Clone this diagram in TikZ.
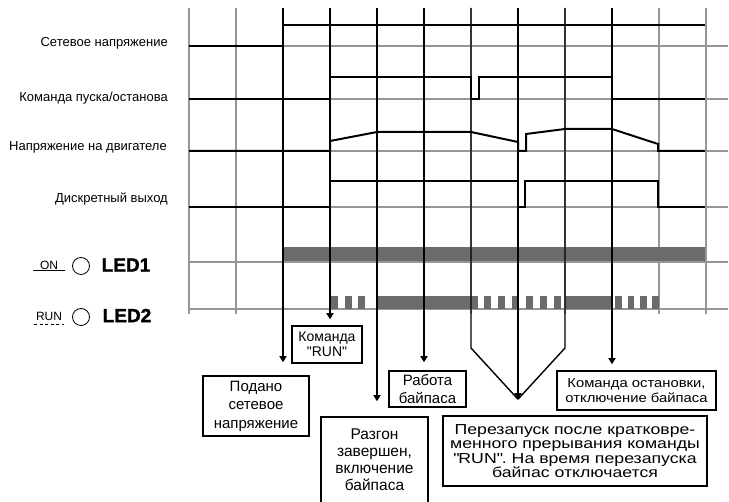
\documentclass[tikz,border=0pt]{standalone}
\usepackage{fontspec}
\setmainfont{Liberation Sans}
\newfontfamily\widefont[FakeStretch=1.22]{Liberation Sans}
\newfontfamily\halfwidefont[FakeStretch=1.14]{Liberation Sans}
\newfontfamily\ledfont[FakeBold=1.6]{Liberation Sans Bold}
\usetikzlibrary{arrows.meta,positioning,calc}
\definecolor{gridgray}{RGB}{150,150,150}
\definecolor{ledgray}{RGB}{107,107,107}
\newcommand\qtd[1]{\textquotedbl#1\textquotedbl}
\tikzset{
    gridline/.style={gridgray, line width=1.2pt},
    signal/.style={black, line width=2pt, line join=miter},
    marker/.style={black, line width=1.4pt},
    sig label/.style={anchor=east, inner sep=0pt, font=\fontsize{13}{14}\selectfont},
    led text/.style={inner sep=0pt, font=\fontsize{12}{12}\selectfont},
    led name/.style={inner sep=0pt, font=\fontsize{19}{19}\ledfont},
    led lamp/.style={draw, circle, minimum size=17pt, inner sep=0pt, line width=0.8pt},
    note/.style={draw, line width=1.5pt, align=center, inner sep=0pt}
}
\begin{document}
\begin{tikzpicture}[x=1pt, y=-1pt, >={Triangle[length=6pt,width=7pt]}]
    \useasboundingbox (0,0) rectangle (729,502);
    % grid
    \foreach \i in {0,...,11}
        \draw[gridline] (189+47*\i,8) -- (189+47*\i,314);
    \foreach \y in {46,99,151,207,262,309}
        \draw[gridline] (189,\y) -- (728,\y);
    % signal names
    \node[sig label] (lnet) at (168,43) {Сетевое напряжение};
    \node[sig label] (lcmd) at (168,98) {Команда пуска/останова};
    \node[sig label] (lmot) at (167,147) {Напряжение на двигателе};
    \node[sig label] (ldo) at (168,199) {Дискретный выход};
    % LEDs
    \node[led text] (on) at (49,265) {ON};
    \draw[line width=1pt] (33,270.5) -- (65,270.5);
    \node[led lamp] (lamp1) at (81,266) {};
    \node[led name] (led1) at (126,265) {LED1};
    \node[led text] (run) at (49,316.5) {RUN};
    \draw[line width=0.8pt, dash pattern=on 3pt off 2.5pt] (34,324) -- (64,324);
    \node[led lamp] (lamp2) at (81,317) {};
    \node[led name] (led2) at (127,315.5) {LED2};
    \fill[ledgray] (283,247) rectangle (705,261);
    \foreach \x in {331,344.5,358,471,484,498,512,526,540,554}
        \fill[ledgray] (\x,296) rectangle ++(7,13);
    \fill[ledgray] (377,296) rectangle (471,309);
    \fill[ledgray] (565,296) rectangle (612,309);
    \foreach \x in {615,627.5,640,652}
        \fill[ledgray] (\x,296) rectangle ++(6.5,13);
    % notes
    \node[note, minimum width=106pt, minimum height=60pt, font=\fontsize{15}{18.5}\selectfont] (podano) at (256,406) {Подано\\сетевое\\напряжение};
    \node[note, minimum width=70pt, minimum height=37pt, font=\fontsize{14}{15}\selectfont] (runcmd) at (327,344.5) {Команда\\\qtd{RUN}};
    \node[note, minimum width=107pt, minimum height=86pt, font=\fontsize{15.5}{17}\selectfont] (razgon) at (374.5,460) {Разгон\\завершен,\\включение\\байпаса};
    \node[note, minimum width=77pt, minimum height=36pt, font=\fontsize{15}{18}\selectfont] (rabota) at (427.5,389) {Работа\\байпаса};
    \node[note, minimum width=159pt, minimum height=39pt, font=\fontsize{13}{15.5}\halfwidefont] (stop) at (636.5,390.5) {Команда остановки,\\отключение байпаса};
    \node[note, minimum width=264pt, minimum height=70pt, font=\fontsize{14.5}{14.3}\widefont] (restart) at (575,451) {Перезапуск после кратковре-\\менного прерывания команды\\\qtd{RUN}. На время перезапуска\\байпас отключается};
    % event lines
    \foreach \n/\x in {1/283,2/330,3/377,4/424,5/471,6/518,7/565,8/612}
        \coordinate (t\n) at (\x,8);
    \draw[marker, ->, shorten >=13pt] (t1) -- (t1 |- podano.north);
    \draw[marker, ->, shorten >=6pt] (t2) -- (t2 |- runcmd.north);
    \draw[marker, ->, shorten >=15pt] (t3) -- (t3 |- razgon.north);
    \draw[marker, ->, shorten >=8pt] (t4) -- (t4 |- rabota.north);
    \draw[marker, ->, shorten >=6pt] (t8) -- (t8 |- stop.north);
    \coordinate (meet) at ($(t6 |- restart.north)+(0,-16)$);
    \draw[marker, ->] (t6) -- (meet);
    \draw[marker] (t5) -- ++(0,340) -- (meet);
    \draw[marker] (t7) -- ++(0,340) -- (meet);
    % signals
    \draw[signal] (189,46) -- (283,46) -- (283,25) -- (705,25);
    \draw[signal] (189,99) -- (330,99) -- (330,77) -- (471,77) -- (471,99) -- (479,99) -- (479,77) -- (612,77) -- (612,99) -- (705,99);
    \draw[signal] (189,151) -- (330,151) -- (330,141) -- (377,132) -- (471,132) -- (518,142) -- (518,151) -- (526,151) -- (526,134) -- (565,129) -- (612,129) -- (658,144) -- (658,151) -- (705,151);
    \draw[signal] (189,207) -- (330,207) -- (330,181) -- (518,181) -- (518,207) -- (525,207) -- (525,181) -- (658,181) -- (658,207) -- (705,207);
\end{tikzpicture}
\end{document}
